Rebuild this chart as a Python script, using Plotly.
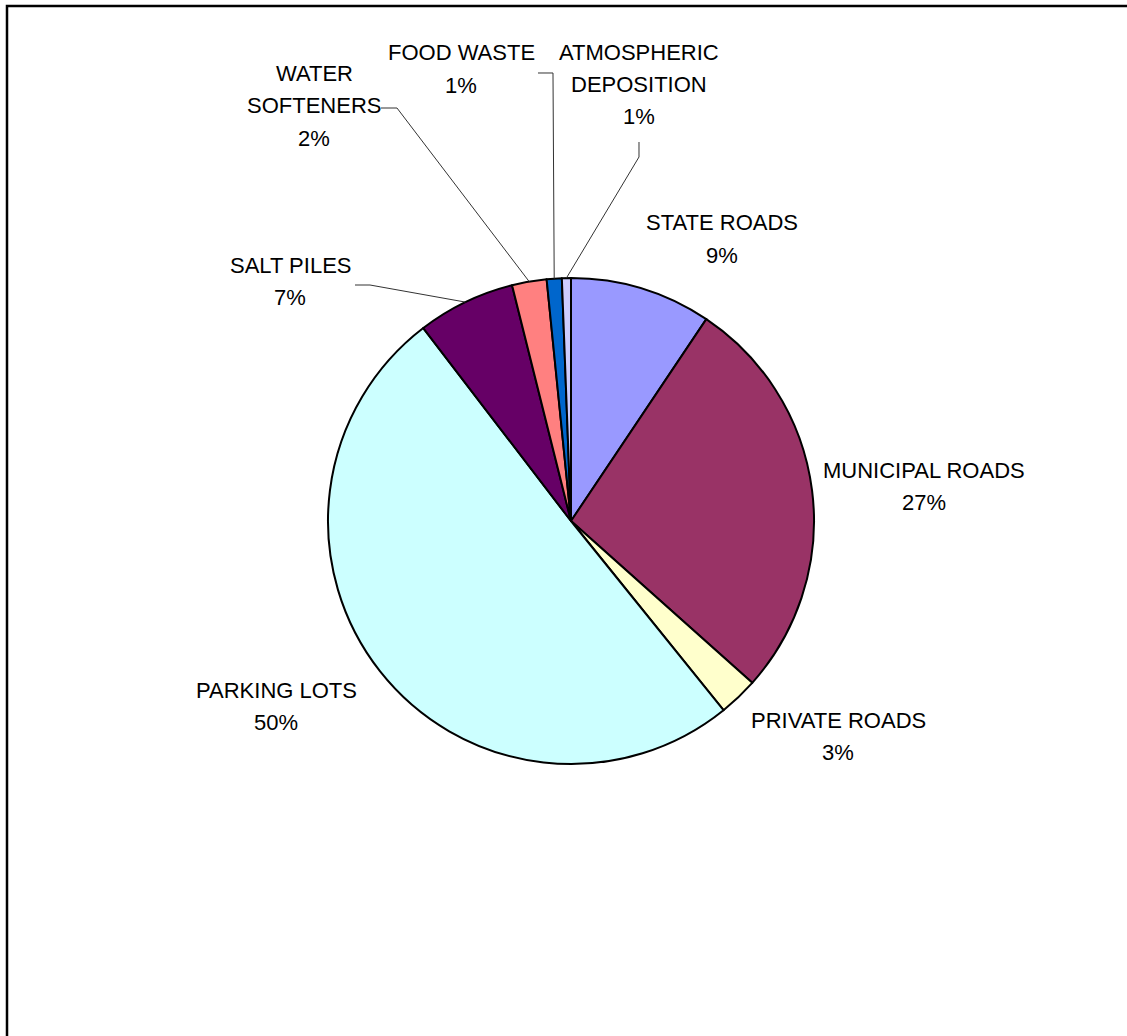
import math
import plotly.graph_objects as go

# ---- data ----
categories = ["STATE ROADS", "MUNICIPAL ROADS", "PRIVATE ROADS", "PARKING LOTS",
              "SALT PILES", "WATER SOFTENERS", "FOOD WASTE", "ATMOSPHERIC DEPOSITION"]
shares = [9.4, 27.2, 2.6, 50.4, 6.5, 2.3, 1.0, 0.6]
pct_labels = ["9%", "27%", "3%", "50%", "7%", "2%", "1%", "1%"]
label_lines = [["STATE ROADS"], ["MUNICIPAL ROADS"], ["PRIVATE ROADS"], ["PARKING LOTS"],
               ["SALT PILES"], ["WATER", "SOFTENERS"], ["FOOD WASTE"],
               ["ATMOSPHERIC", "DEPOSITION"]]
colors = ["#9999FF", "#993366", "#FFFFCC", "#CCFFFF", "#660066", "#FF8080", "#0066CC", "#CCCCFF"]

# ---- layout geometry (pixels) ----
W, H = 1127, 1036
CX, CY, R = 571, 521, 243
LINE_STEP = 32.5
label_pos = [(722, 223), (924, 470), (838, 720), (276, 690),
             (290, 265), (314, 73), (461, 53), (639, 52)]
leader_start = {4: [(355, 285), (370, 285)],
                5: [(381, 108), (397, 108)],
                6: [(538, 73), (553, 73)],
                7: [(639, 142), (639, 157)]}


def px(x):
    return x / W


def py(y):
    return 1 - y / H


fig = go.Figure(go.Pie(
    labels=categories, values=shares, sort=False, direction="clockwise",
    rotation=0, marker=dict(colors=colors, line=dict(color="black", width=2)),
    textinfo="none", hoverinfo="label+percent", showlegend=False,
    domain=dict(x=[px(CX - R), px(CX + R)], y=[py(CY + R), py(CY - R)]),
))

annotations = []
for i, lines in enumerate(label_lines):
    x0, y0 = label_pos[i]
    for j, t in enumerate(lines + [pct_labels[i]]):
        annotations.append(dict(
            x=px(x0), y=py(y0 + j * LINE_STEP), xref="paper", yref="paper",
            text=t, showarrow=False, xanchor="center", yanchor="middle",
            font=dict(family="Liberation Sans, Arial", size=22, color="black")))

shapes = []
total = sum(shares)
cum = 0.0
mids = []
for v in shares:
    mids.append((cum + v / 2) / total * 2 * math.pi)
    cum += v
for i, pts in leader_start.items():
    th = mids[i]
    ex, ey = CX + R * math.sin(th), CY - R * math.cos(th)
    allp = pts + [(ex, ey)]
    path = "M " + " L ".join(f"{px(a):.5f},{py(b):.5f}" for a, b in allp)
    shapes.append(dict(type="path", xref="paper", yref="paper", path=path,
                       line=dict(color="#333333", width=1)))

# chart border (top and left visible)
shapes.append(dict(type="path", xref="paper", yref="paper",
                   path=f"M {px(7)},{py(H + 5)} L {px(7)},{py(6)} L {px(W + 5)},{py(6)}",
                   line=dict(color="black", width=2.5)))

fig.update_layout(
    width=W, height=H, margin=dict(l=0, r=0, t=0, b=0),
    paper_bgcolor="white", plot_bgcolor="white",
    annotations=annotations, shapes=shapes,
)

fig.write_html("out.html", config={"displayModeBar": False},
               post_script="document.body.style.margin='0';document.body.style.overflow='hidden';")
